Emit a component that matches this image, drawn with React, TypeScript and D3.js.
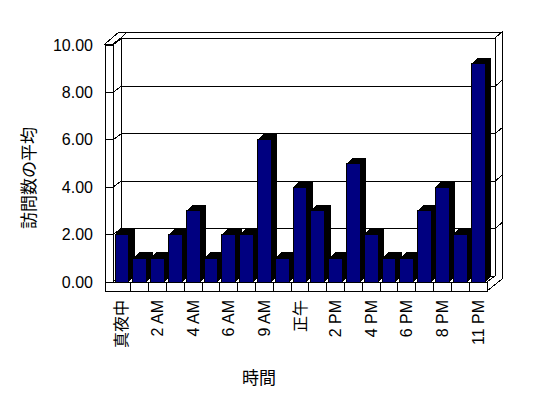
import * as d3 from 'd3'

const CATEGORIES = ['真夜中', '1 AM', '2 AM', '3 AM', '4 AM', '5 AM', '6 AM', '7 AM', '9 AM', '10 AM', '正午',
  '1 PM', '2 PM', '3 PM', '4 PM', '5 PM', '6 PM', '7 PM', '8 PM', '9 PM', '11 PM']
const VALUES = [2, 1, 1, 2, 3, 1, 2, 2, 6, 1, 4, 3, 1, 5, 2, 1, 1, 3, 4, 2, 9.2]
const Y_TICKS = [0, 2, 4, 6, 8, 10]
const Y_TITLE = '訪問数の平均'
const X_TITLE = '時間'

const W = 548
const H = 398
// depth of the chart box, and extra thickness of the back wall
const DX = 8, DY = -6
const TX = 7, TY = -6
const WALL = 8 // left wall thickness
const FLOOR = 9 // floor slab thickness
const BAR_D = 6

const FONT = '"Liberation Sans", Arial, "Noto Sans CJK JP", sans-serif'
const CJK = '"Noto Sans CJK JP", sans-serif'

export default function App() {
  const x = d3.scaleBand<number>().domain(d3.range(CATEGORIES.length)).range([113, 487])
  const y = d3.scaleLinear().domain([0, 10]).range([282, 45])
  const x0 = 113, x1 = 487
  const yb = y(0), yt = y(10) - 1
  const bw = x.bandwidth()

  const pts = (p: number[][]) => p.map((d) => d.join(',')).join(' ')
  const line = { stroke: '#000', strokeWidth: 1, fill: 'none' }

  return (
    <svg width={W} height={H} style={{ position: 'absolute', left: 0, top: 0, background: '#fff' }}
      shapeRendering="crispEdges">
      {/* back wall */}
      <rect x={x0 + DX} y={yt + DY} width={x1 - x0} height={yb - yt} fill="#fff" stroke="#000" />
      {/* back wall top & right thickness */}
      <polygon points={pts([[x0 - WALL, yt], [x0, yt], [x0 + DX, yt + DY], [x1 + DX, yt + DY], [x1 + DX + TX, yt + DY + TY], [x0 - WALL + DX + TX - 1, yt + DY + TY]])}
        fill="#fff" stroke="#000" />
      <line x1={x0 + DX} y1={yt + DY} x2={x0 + DX + TX - 1} y2={yt + DY + TY} {...line} />
      <polygon points={pts([[x1 + DX, yt + DY], [x1 + DX + TX, yt + DY + TY], [x1 + DX + TX, yb + FLOOR + DY + TY], [x1, yb + FLOOR], [x1, yb], [x1 + DX, yb + DY]])}
        fill="#fff" stroke="#000" />
      <line x1={x1} y1={yb} x2={x1 + DX} y2={yb + DY} {...line} />
      {/* left wall inner face */}
      <polygon points={pts([[x0, yt], [x0 + DX, yt + DY], [x0 + DX, yb + DY], [x0, yb]])} fill="#fff" stroke="#000" />
      {/* left wall front face */}
      <rect x={x0 - WALL} y={yt} width={WALL} height={yb + FLOOR - yt} fill="#fff" stroke="#000" />
      {/* gridlines & ticks */}
      {Y_TICKS.map((t) => (
        <g key={t}>
          <line x1={x0 - WALL} y1={y(t)} x2={x0} y2={y(t)} {...line} />
          <line x1={x0} y1={y(t)} x2={x0 + DX} y2={y(t) + DY} {...line} />
          {t > 0 && t < 10 && <line x1={x0 + DX} y1={y(t) + DY} x2={x1 + DX} y2={y(t) + DY} {...line} />}
          {t > 0 && t < 10 && <line x1={x1 + DX} y1={y(t) + DY} x2={x1 + DX + TX} y2={y(t) + DY + TY} {...line} />}
        </g>
      ))}
      {/* floor top */}
      <polygon points={pts([[x0, yb], [x1, yb], [x1 + DX, yb + DY], [x0 + DX, yb + DY]])} fill="#fff" stroke="#000" />
      {/* bars */}
      {VALUES.map((v, i) => {
        const bx = (x(i) as number) + 2
        const w = bw - 4
        const top = y(v)
        return (
          <g key={i}>
            <polygon points={pts([[bx + w, top], [bx + w + BAR_D, top - BAR_D], [bx + w + BAR_D, yb - BAR_D], [bx + w, yb]])} fill="#000" />
            <polygon points={pts([[bx, top], [bx + BAR_D, top - BAR_D], [bx + w + BAR_D, top - BAR_D], [bx + w, top]])} fill="#000" />
            <rect x={bx} y={top} width={w} height={yb - top} fill="#000080" stroke="#000" strokeWidth={1} />
          </g>
        )
      })}
      {/* floor front face */}
      <rect x={x0 - WALL} y={yb} width={x1 - x0 + WALL} height={FLOOR} fill="#fff" stroke="#000" />
      {CATEGORIES.map((_, i) => i > 0 && (
        <line key={i} x1={x(i) as number} y1={yb} x2={x(i) as number} y2={yb + FLOOR} {...line} />
      ))}
      {/* y axis labels */}
      {Y_TICKS.map((t) => (
        <text key={t} x={93} y={y(t)} textAnchor="end" dominantBaseline="central"
          fontFamily={FONT} fontSize={16} fill="#000">{t.toFixed(2)}</text>
      ))}
      {/* x axis labels */}
      {CATEGORIES.map((c, i) => i % 2 === 0 && (
        <text key={c} transform={`translate(${(x(i) as number) + bw / 2},300) rotate(-90)`}
          textAnchor="end" dominantBaseline="central" fontFamily={FONT} fontSize={16} fill="#000">{c}</text>
      ))}
      <text transform="translate(27,178) rotate(-90)" textAnchor="middle" dominantBaseline="central"
        fontFamily={CJK} fontSize={17} fill="#000">{Y_TITLE}</text>
      <text x={259} y={376} textAnchor="middle" dominantBaseline="central"
        fontFamily={CJK} fontSize={17} fill="#000">{X_TITLE}</text>
    </svg>
  )
}
